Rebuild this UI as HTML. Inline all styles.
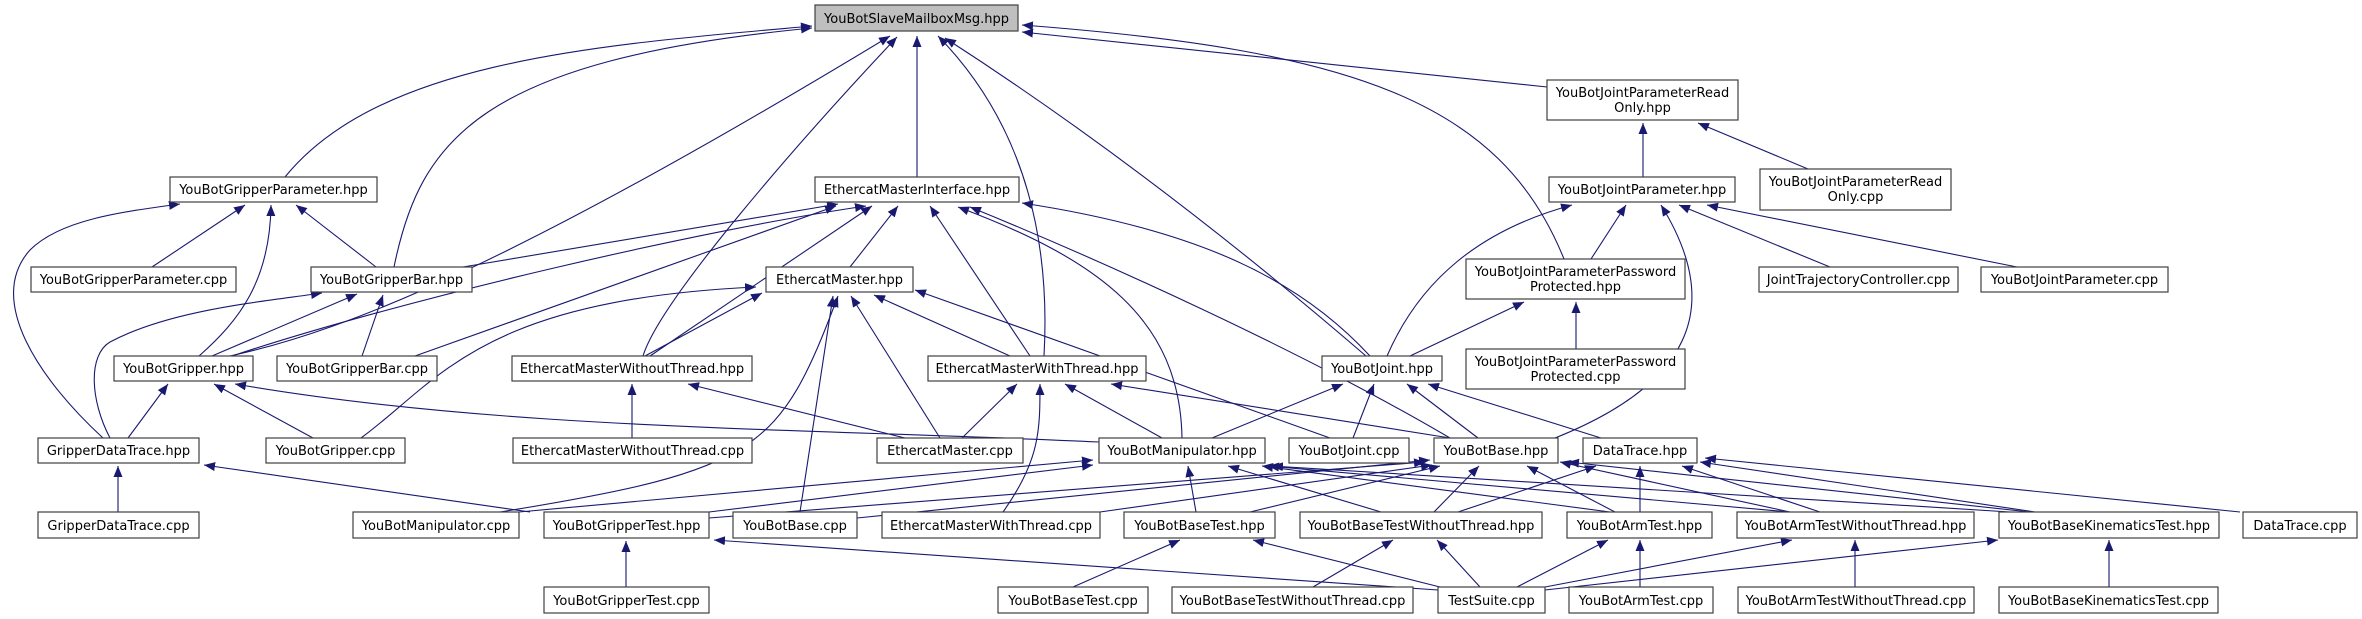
<!DOCTYPE html>
<html><head><meta charset="utf-8"><style>
html,body{margin:0;padding:0;background:#fff;}
svg{display:block;}
text{font-family:"DejaVu Sans","Liberation Sans",sans-serif;font-size:13px;fill:#000;}
.n rect{fill:#fff;stroke:#404040;stroke-width:1.2;}
.e path{fill:none;stroke:#191970;stroke-width:1.1;marker-end:url(#a);}
</style></head><body>
<svg width="2362" height="619" viewBox="0 0 2362 619" xmlns="http://www.w3.org/2000/svg">
<defs><marker id="a" markerUnits="userSpaceOnUse" markerWidth="12" markerHeight="10" refX="11" refY="4.5" orient="auto"><path d="M0,0 L11,4.5 L0,9 z" fill="#191970"/></marker></defs>
<g class="e">
<path d="M285 177 C380 60,600 45,812 26"/>
<path d="M394 267 C420 140,480 60,812 28"/>
<path d="M230 356 C350 330,520 260,890 36"/>
<path d="M643 356 C660 300,800 140,897 37"/>
<path d="M917 177 L917 36"/>
<path d="M1044 356 C1050 250,1030 130,938 36"/>
<path d="M1366 356 Q1150 170,945 38"/>
<path d="M1547 87 L1022 32"/>
<path d="M1564 259 C1500 100,1350 50,1022 25"/>
<path d="M463 267 L838 204"/>
<path d="M232 356 C400 300,700 230,866 206"/>
<path d="M650 356 L872 206"/>
<path d="M415 356 L836 206"/>
<path d="M850 267 L898 206"/>
<path d="M1030 356 L930 206"/>
<path d="M1182 438 C1180 320,1100 260,958 207"/>
<path d="M1450 438 C1300 350,1100 260,970 207"/>
<path d="M1370 356 C1300 280,1200 230,1022 203"/>
<path d="M361 438 C440 380,480 300,756 287"/>
<path d="M645 356 L762 293"/>
<path d="M800 512 L833 296"/>
<path d="M500 512 C760 470,780 450,838 296"/>
<path d="M940 438 L851 296"/>
<path d="M1010 356 L874 295"/>
<path d="M1330 438 L915 290"/>
<path d="M632 438 L632 384"/>
<path d="M905 438 L688 384"/>
<path d="M962 438 L1017 384"/>
<path d="M1003 512 C1040 460,1040 430,1040 384"/>
<path d="M1162 438 L1065 384"/>
<path d="M1450 438 L1111 384"/>
<path d="M1212 438 L1343 384"/>
<path d="M1353 438 L1374 384"/>
<path d="M1478 438 L1407 384"/>
<path d="M1601 438 L1428 384"/>
<path d="M1410 356 L1524 302"/>
<path d="M1576 349 L1576 302"/>
<path d="M1387 356 C1420 280,1480 230,1572 205"/>
<path d="M1591 259 L1626 205"/>
<path d="M1555 438 C1700 380,1720 300,1661 205"/>
<path d="M1830 267 L1679 205"/>
<path d="M2017 267 L1707 205"/>
<path d="M1643 177 L1643 123"/>
<path d="M1808 169 L1698 123"/>
<path d="M103 438 C40 380,-15 300,30 250 C60 220,120 212,180 204"/>
<path d="M152 267 L245 205"/>
<path d="M199 356 C240 320,270 280,271 205"/>
<path d="M376 267 L296 205"/>
<path d="M110 438 C90 400,88 355,110 342 C170 310,260 302,322 293"/>
<path d="M212 356 L357 294"/>
<path d="M362 356 L383 295"/>
<path d="M128 438 L168 384"/>
<path d="M313 438 L214 384"/>
<path d="M1099 442 C800 428,500 430,235 384"/>
<path d="M118 512 L118 466"/>
<path d="M530 512 L204 465"/>
<path d="M626 587 L626 541"/>
<path d="M1438 590 Q1000 560,714 540"/>
<path d="M519 512 L1093 460"/>
<path d="M709 512 L1093 465"/>
<path d="M1196 512 L1188 466"/>
<path d="M1381 512 L1228 466"/>
<path d="M1610 512 L1262 466"/>
<path d="M1790 512 L1268 466"/>
<path d="M2010 512 L1272 466"/>
<path d="M857 518 L1430 460"/>
<path d="M1100 512 L1432 465"/>
<path d="M709 518 L1425 462"/>
<path d="M1250 512 L1440 466"/>
<path d="M1434 512 L1479 466"/>
<path d="M1615 512 L1527 466"/>
<path d="M1790 512 L1560 462"/>
<path d="M2030 512 L1568 462"/>
<path d="M1458 512 L1596 466"/>
<path d="M1640 512 L1640 466"/>
<path d="M1820 512 L1682 466"/>
<path d="M2035 512 L1700 462"/>
<path d="M2240 512 L1705 458"/>
<path d="M1073 587 L1180 540"/>
<path d="M1440 587 L1253 540"/>
<path d="M1313 587 L1393 540"/>
<path d="M1480 587 L1437 540"/>
<path d="M1517 587 L1608 540"/>
<path d="M1640 587 L1640 540"/>
<path d="M1545 587 L1792 540"/>
<path d="M1855 587 L1855 540"/>
<path d="M1545 590 L1998 540"/>
<path d="M2109 587 L2109 540"/>
</g>
<g class="n">
<rect x="815" y="5" width="203" height="26" style="fill:#bfbfbf"/><text x="916.5" y="23" text-anchor="middle">YouBotSlaveMailboxMsg.hpp</text>
<rect x="170" y="177" width="207" height="25"/><text x="273.5" y="194" text-anchor="middle">YouBotGripperParameter.hpp</text>
<rect x="31" y="267" width="205" height="25"/><text x="133.5" y="284" text-anchor="middle">YouBotGripperParameter.cpp</text>
<rect x="311" y="267" width="161" height="25"/><text x="391.5" y="284" text-anchor="middle">YouBotGripperBar.hpp</text>
<rect x="815" y="177" width="204" height="25"/><text x="917" y="194" text-anchor="middle">EthercatMasterInterface.hpp</text>
<rect x="766" y="267" width="147" height="25"/><text x="839.5" y="284" text-anchor="middle">EthercatMaster.hpp</text>
<rect x="1547" y="80" width="191" height="40"/><text x="1642.5" y="97" text-anchor="middle">YouBotJointParameterRead</text><text x="1642.5" y="112" text-anchor="middle">Only.hpp</text>
<rect x="1549" y="177" width="186" height="25"/><text x="1642" y="194" text-anchor="middle">YouBotJointParameter.hpp</text>
<rect x="1466" y="259" width="219" height="40"/><text x="1575.5" y="276" text-anchor="middle">YouBotJointParameterPassword</text><text x="1575.5" y="291" text-anchor="middle">Protected.hpp</text>
<rect x="1760" y="169" width="191" height="41"/><text x="1855.5" y="186" text-anchor="middle">YouBotJointParameterRead</text><text x="1855.5" y="201" text-anchor="middle">Only.cpp</text>
<rect x="1759" y="267" width="199" height="25"/><text x="1858.5" y="284" text-anchor="middle">JointTrajectoryController.cpp</text>
<rect x="1981" y="267" width="187" height="25"/><text x="2074.5" y="284" text-anchor="middle">YouBotJointParameter.cpp</text>
<rect x="114" y="356" width="139" height="25"/><text x="183.5" y="373" text-anchor="middle">YouBotGripper.hpp</text>
<rect x="277" y="356" width="160" height="25"/><text x="357" y="373" text-anchor="middle">YouBotGripperBar.cpp</text>
<rect x="512" y="356" width="240" height="25"/><text x="632" y="373" text-anchor="middle">EthercatMasterWithoutThread.hpp</text>
<rect x="928" y="356" width="218" height="25"/><text x="1037" y="373" text-anchor="middle">EthercatMasterWithThread.hpp</text>
<rect x="1322" y="356" width="120" height="25"/><text x="1382" y="373" text-anchor="middle">YouBotJoint.hpp</text>
<rect x="1466" y="349" width="219" height="40"/><text x="1575.5" y="366" text-anchor="middle">YouBotJointParameterPassword</text><text x="1575.5" y="381" text-anchor="middle">Protected.cpp</text>
<rect x="38" y="438" width="161" height="25"/><text x="118.5" y="455" text-anchor="middle">GripperDataTrace.hpp</text>
<rect x="266" y="438" width="139" height="25"/><text x="335.5" y="455" text-anchor="middle">YouBotGripper.cpp</text>
<rect x="513" y="438" width="239" height="25"/><text x="632.5" y="455" text-anchor="middle">EthercatMasterWithoutThread.cpp</text>
<rect x="877" y="438" width="146" height="25"/><text x="950" y="455" text-anchor="middle">EthercatMaster.cpp</text>
<rect x="1099" y="438" width="166" height="25"/><text x="1182" y="455" text-anchor="middle">YouBotManipulator.hpp</text>
<rect x="1289" y="438" width="120" height="25"/><text x="1349" y="455" text-anchor="middle">YouBotJoint.cpp</text>
<rect x="1434" y="438" width="124" height="25"/><text x="1496" y="455" text-anchor="middle">YouBotBase.hpp</text>
<rect x="1583" y="438" width="114" height="25"/><text x="1640" y="455" text-anchor="middle">DataTrace.hpp</text>
<rect x="38" y="512" width="161" height="26"/><text x="118.5" y="530" text-anchor="middle">GripperDataTrace.cpp</text>
<rect x="353" y="512" width="166" height="26"/><text x="436" y="530" text-anchor="middle">YouBotManipulator.cpp</text>
<rect x="544" y="512" width="165" height="26"/><text x="626.5" y="530" text-anchor="middle">YouBotGripperTest.hpp</text>
<rect x="733" y="512" width="124" height="26"/><text x="795" y="530" text-anchor="middle">YouBotBase.cpp</text>
<rect x="882" y="512" width="218" height="26"/><text x="991" y="530" text-anchor="middle">EthercatMasterWithThread.cpp</text>
<rect x="1124" y="512" width="151" height="26"/><text x="1199.5" y="530" text-anchor="middle">YouBotBaseTest.hpp</text>
<rect x="1300" y="512" width="242" height="26"/><text x="1421" y="530" text-anchor="middle">YouBotBaseTestWithoutThread.hpp</text>
<rect x="1567" y="512" width="145" height="26"/><text x="1639.5" y="530" text-anchor="middle">YouBotArmTest.hpp</text>
<rect x="1737" y="512" width="237" height="26"/><text x="1855.5" y="530" text-anchor="middle">YouBotArmTestWithoutThread.hpp</text>
<rect x="1999" y="512" width="220" height="26"/><text x="2109" y="530" text-anchor="middle">YouBotBaseKinematicsTest.hpp</text>
<rect x="2243" y="512" width="114" height="26"/><text x="2300" y="530" text-anchor="middle">DataTrace.cpp</text>
<rect x="544" y="587" width="165" height="26"/><text x="626.5" y="605" text-anchor="middle">YouBotGripperTest.cpp</text>
<rect x="998" y="587" width="150" height="26"/><text x="1073" y="605" text-anchor="middle">YouBotBaseTest.cpp</text>
<rect x="1172" y="587" width="241" height="26"/><text x="1292.5" y="605" text-anchor="middle">YouBotBaseTestWithoutThread.cpp</text>
<rect x="1438" y="587" width="107" height="26"/><text x="1491.5" y="605" text-anchor="middle">TestSuite.cpp</text>
<rect x="1569" y="587" width="144" height="26"/><text x="1641" y="605" text-anchor="middle">YouBotArmTest.cpp</text>
<rect x="1738" y="587" width="236" height="26"/><text x="1856" y="605" text-anchor="middle">YouBotArmTestWithoutThread.cpp</text>
<rect x="1999" y="587" width="219" height="26"/><text x="2108.5" y="605" text-anchor="middle">YouBotBaseKinematicsTest.cpp</text>
</g>
</svg>
</body></html>
